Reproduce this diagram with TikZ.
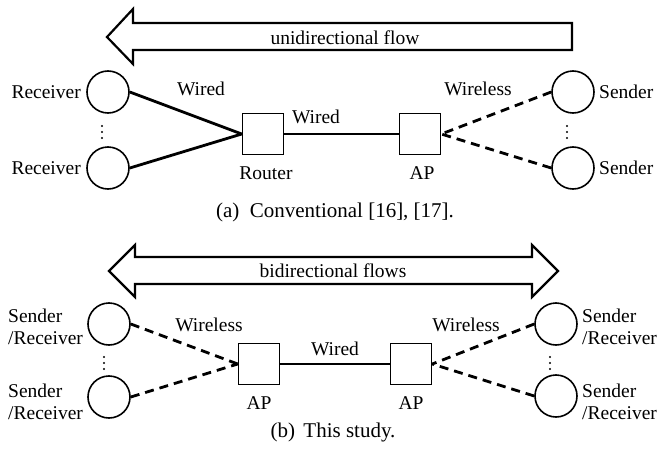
\documentclass[tikz,border=0pt]{standalone}
\usepackage{fontspec}
\setmainfont{Liberation Serif}
\begin{document}
\begin{tikzpicture}[x=1pt,y=-1pt,
  font=\fontsize{19.5}{22}\selectfont,
  host/.style={circle,draw,line width=1.6pt,minimum size=42pt,inner sep=0pt},
  box/.style={rectangle,draw,line width=1.6pt,minimum size=41pt,inner sep=0pt},
  wire/.style={line width=2.8pt},
  trunk/.style={line width=2.3pt},
  wless/.style={line width=2.8pt,dash pattern=on 9pt off 6pt},
  flow/.style={draw,line width=2.2pt,line join=miter,fill=white},
  lbl/.style={inner sep=0pt},
  caption/.style={inner sep=0pt,font=\fontsize{21}{24}\selectfont},
  dotcol/.style={fill,circle,inner sep=0pt,minimum size=2.2pt}]

\useasboundingbox (0,0) rectangle (657,466);

% ---------- (a) conventional setup ----------
\draw[flow] (107,37) -- (133,9) -- (133,23) -- (572,23) -- (572,50)
  -- (133,50) -- (133,64) -- cycle;
\node[lbl] (uflow) at (345,38) {unidirectional flow};

\node[host] (r1) at (108,92) {};
\node[host] (r2) at (108,168) {};
\node[lbl,anchor=east] (r1l) at (81,92) {Receiver};
\node[lbl,anchor=east] (r2l) at (81,168) {Receiver};
\foreach \yy [count=\i] in {126,132,138}
  \node[dotcol] (ad\i) at (102,\yy) {};

\node[box] (rt) at (263,134) {};
\node[lbl] (rtl) at (266,173) {Router};
\node[box] (ap1) at (420,134) {};
\node[lbl] (ap1l) at (422,173) {AP};

\node[host] (s1) at (573,92) {};
\node[host] (s2) at (573,168) {};
\node[lbl,anchor=west] (s1l) at (599,92) {Sender};
\node[lbl,anchor=west] (s2l) at (599,168) {Sender};
\foreach \yy [count=\i] in {126,132,138}
  \node[dotcol] (bd\i) at (567,\yy) {};

\draw[wire] (r1.east) -- (rt.west);
\draw[wire] (r2.east) -- (rt.west);
\draw[trunk] (rt) -- (ap1);
\draw[wless] (s1.west) -- (ap1.east);
\draw[wless] (s2.west) -- (ap1.east);

\node[lbl] (wa1) at (201,89) {Wired};
\node[lbl] (wa2) at (316,117) {Wired};
\node[lbl] (wa3) at (478,89) {Wireless};

\node[caption] (capa) at (335,212) {(a)\hspace{0.5em}Conventional [16], [17].};

% ---------- (b) this study ----------
\draw[flow] (109,271) -- (135,245) -- (135,257) -- (532,257) -- (532,245)
  -- (558,271) -- (532,297) -- (532,284) -- (135,284) -- (135,297) -- cycle;
\node[lbl] (bflow) at (333,271) {bidirectional flows};

\node[host] (u1) at (109,324) {};
\node[host] (u2) at (109,397) {};
\node[lbl,anchor=west,align=left] (u1l) at (8,327) {Sender\\/Receiver};
\node[lbl,anchor=west,align=left] (u2l) at (8,402) {Sender\\/Receiver};
\foreach \yy [count=\i] in {357,363,369}
  \node[dotcol] (cd\i) at (104,\yy) {};

\node[box] (apl) at (259,364) {};
\node[lbl] (apll) at (259,403) {AP};
\node[box] (apr) at (411,364) {};
\node[lbl] (aprl) at (411,403) {AP};

\node[host] (v1) at (556,324) {};
\node[host] (v2) at (556,396) {};
\node[lbl,anchor=west,align=left] (v1l) at (582,327) {Sender\\/Receiver};
\node[lbl,anchor=west,align=left] (v2l) at (582,402) {Sender\\/Receiver};
\foreach \yy [count=\i] in {357,363,369}
  \node[dotcol] (dd\i) at (550,\yy) {};

\draw[wless] (u1.east) -- (apl.west);
\draw[wless] (u2.east) -- (apl.west);
\draw[trunk] (apl) -- (apr);
\draw[wless] (v1.west) -- (apr.east);
\draw[wless] (v2.west) -- (apr.east);

\node[lbl] (wb1) at (209,325) {Wireless};
\node[lbl] (wb2) at (335,349) {Wired};
\node[lbl] (wb3) at (466,325) {Wireless};

\node[caption] (capb) at (333,432) {(b)\hspace{0.4em}This study.};
\end{tikzpicture}
\end{document}
